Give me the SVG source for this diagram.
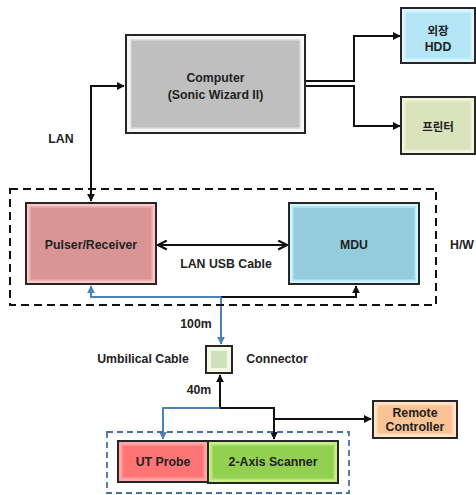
<svg xmlns="http://www.w3.org/2000/svg" width="476" height="495" viewBox="0 0 476 495">
  <defs>
    <style>
      .lbl { font-family: "Liberation Sans", "Noto Sans CJK KR", sans-serif; font-weight: bold; font-size: 12.3px; fill: #222; text-anchor: middle; dominant-baseline: central; }
      .kr { font-family: "Noto Sans CJK KR", "Liberation Sans", sans-serif; font-size: 11.5px; }
      .frame { stroke: #262626; stroke-width: 2; }
      .wire { fill: none; stroke: #111; stroke-width: 2; }
      .blue { fill: none; stroke: #4f81bd; stroke-width: 2; }
      .hw { fill: none; stroke: #111; stroke-width: 2; stroke-dasharray: 8 5; }
      .probeGrp { fill: none; stroke: #4a6fa5; stroke-width: 1.8; stroke-dasharray: 6 4; }
    </style>
    <marker id="ah" viewBox="0 0 10 10" refX="9" refY="5" markerWidth="4" markerHeight="4" orient="auto-start-reverse">
      <path d="M0,0 L10,5 L0,10 z" fill="#111"/>
    </marker>
    <marker id="ahb" viewBox="0 0 10 10" refX="9" refY="5" markerWidth="4" markerHeight="4" orient="auto">
      <path d="M0,0 L10,5 L0,10 z" fill="#4f81bd"/>
    </marker>
    <marker id="chev" viewBox="0 0 10 10" refX="9" refY="5" markerWidth="5.5" markerHeight="5.5" orient="auto-start-reverse">
      <path d="M1,1 L9,5 L1,9" fill="none" stroke="#111" stroke-width="2"/>
    </marker>
  </defs>

  <!-- connectors -->
  <g id="connectors">
    <!-- LAN: Pulser/Receiver <-> Computer -->
    <polyline class="wire" points="91,201 91,86 124,86" marker-start="url(#ah)" marker-end="url(#ah)"/>
    <!-- Computer to peripherals -->
    <polyline class="wire" points="305,81 354,81 354,36 400,36" marker-end="url(#ah)"/>
    <polyline class="wire" points="305,86 354,86 354,126 400,126" marker-end="url(#ah)"/>
    <!-- LAN USB cable -->
    <line class="wire" x1="158" y1="245" x2="287" y2="245" marker-start="url(#chev)" marker-end="url(#chev)"/>
    <!-- Umbilical cable from connector to H/W -->
    <polyline class="blue" points="221,297 91,297 91,286" marker-end="url(#ahb)"/>
    <polyline class="wire" points="221,297 356,297 356,286" marker-end="url(#ah)"/>
    <line class="blue" x1="221" y1="297" x2="221" y2="344" marker-end="url(#ahb)"/>
    <!-- 40 m cable from probe/scanner to connector -->
    <line class="wire" x1="220" y1="408" x2="220" y2="375" marker-end="url(#ah)"/>
    <polyline class="blue" points="220,408 163,408 163,439" marker-end="url(#ahb)"/>
    <polyline class="wire" points="220,408 274,408 274,439" marker-end="url(#ah)"/>
    <polyline class="wire" points="274,419 371,419" marker-end="url(#ah)"/>
  </g>

  <!-- groupings -->
  <g id="hw-group">
    <rect class="hw" x="10" y="189" width="426" height="116"/>
    <text class="lbl" x="462" y="245">H/W</text>
  </g>
  <g id="probe-group">
    <rect class="probeGrp" x="107" y="432" width="242" height="61"/>
  </g>

  <!-- nodes -->
  <g id="computer">
    <rect class="frame" x="126" y="35" width="179" height="98" fill="#f7f7f7"/>
    <rect x="131" y="40" width="169" height="88" fill="#bfbfbf" stroke="#d9d9d9" stroke-width="1.5"/>
    <text class="lbl" x="215.5" y="78">Computer</text>
    <text class="lbl" x="215.5" y="95">(Sonic Wizard II)</text>
  </g>

  <g id="hdd">
    <rect class="frame" x="401" y="8" width="74" height="55" fill="#dff6ff"/>
    <rect x="405" y="12" width="66" height="47" fill="#b4e6f7" stroke="#cdf0fb" stroke-width="1.5"/>
    <text class="lbl kr" x="438" y="30">외장</text>
    <text class="lbl" x="438" y="46.5">HDD</text>
  </g>

  <g id="printer">
    <rect class="frame" x="401" y="97" width="74" height="57" fill="#f2f5dc"/>
    <rect x="405" y="101" width="66" height="49" fill="#dbe3bd" stroke="#e8edd0" stroke-width="1.5"/>
    <text class="lbl kr" x="438" y="126">프린터</text>
  </g>

  <g id="pulser-receiver">
    <rect class="frame" x="26" y="203" width="130" height="81" fill="#ffc7c7"/>
    <rect x="30" y="207" width="122" height="73" fill="#d99593" stroke="#e8acab" stroke-width="1.5"/>
    <text class="lbl" x="91" y="245">Pulser/Receiver</text>
  </g>

  <g id="mdu">
    <rect class="frame" x="289" y="203" width="130" height="81" fill="#cdf6ff"/>
    <rect x="293" y="207" width="122" height="73" fill="#93cddd" stroke="#b0e3ef" stroke-width="1.5"/>
    <text class="lbl" x="354" y="245">MDU</text>
  </g>

  <g id="connector">
    <rect class="frame" x="206" y="346" width="26" height="27" fill="#f3f8e2"/>
    <rect x="211" y="351" width="16" height="17" fill="#cfe0bd"/>
  </g>

  <g id="remote-controller">
    <rect class="frame" x="373" y="401" width="84" height="37" fill="#fde3c8"/>
    <rect x="377" y="405" width="76" height="29" fill="#fbc394" stroke="#fdd7b3" stroke-width="1.5"/>
    <text class="lbl" x="415" y="413">Remote</text>
    <text class="lbl" x="415" y="427">Controller</text>
  </g>

  <g id="ut-probe">
    <rect class="frame" x="118" y="441" width="90" height="41" fill="#ffa8aa"/>
    <rect x="122" y="445" width="82" height="33" fill="#ff7474" stroke="#ff9596" stroke-width="1.5"/>
    <text class="lbl" x="163" y="462">UT Probe</text>
  </g>

  <g id="scanner">
    <rect class="frame" x="208" y="441" width="130" height="42" fill="#c7f08a"/>
    <rect x="212" y="445" width="122" height="34" fill="#92d050" stroke="#aee070" stroke-width="1.5"/>
    <text class="lbl" x="273" y="462">2-Axis Scanner</text>
  </g>

  <!-- free labels -->
  <g id="labels">
    <text class="lbl" x="61" y="139">LAN</text>
    <text class="lbl" x="226" y="264">LAN USB Cable</text>
    <text class="lbl" x="196" y="324">100m</text>
    <text class="lbl" x="143" y="359">Umbilical Cable</text>
    <text class="lbl" x="277" y="359">Connector</text>
    <text class="lbl" x="199" y="390">40m</text>
  </g>
</svg>
